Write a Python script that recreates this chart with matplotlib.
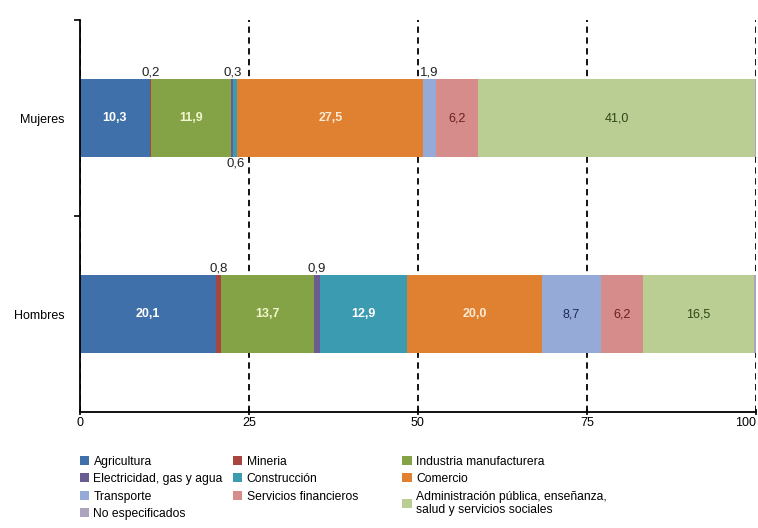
import matplotlib.pyplot as plt
from matplotlib.patches import Patch

plt.rcParams['font.family'] = ['Liberation Sans', 'DejaVu Sans']

# Distribución de ocupados por rama de actividad (%)
categorias = ['Hombres', 'Mujeres']
sectores = ['Agricultura', 'Mineria', 'Industria manufacturera',
            'Electricidad, gas y agua', 'Construcción', 'Comercio',
            'Transporte', 'Servicios financieros',
            'Administración pública, enseñanza,\nsalud y servicios sociales',
            'No especificados']
hombres = [20.1, 0.8, 13.7, 0.9, 12.9, 20.0, 8.7, 6.2, 16.5, 0.2]
mujeres = [10.3, 0.2, 11.9, 0.3, 0.6, 27.5, 1.9, 6.2, 41.0, 0.1]

colores = ['#4070AA', '#A8453F', '#84A347', '#6A5B90', '#3B9BB1', '#E08132',
           '#95AAD6', '#D58C8B', '#BACD93', '#ABA4BC']
color_texto = ['white', 'white', '#F2F6CC', 'white', 'white', '#FCEBD4',
               '#1E2D58', '#6A1E1E', '#2C4718', 'black']
negrita = [True, True, True, True, True, True, False, False, False, False]

# donde va cada etiqueta: dentro, encima o debajo de la barra
pos_h = ['in', 'above', 'in', 'above', 'in', 'in', 'in', 'in', 'in', None]
pos_m = ['in', 'above', 'in', 'above', 'below', 'in', 'above', 'in', 'in', None]

fig = plt.figure(figsize=(7.58, 5.28), dpi=100)
ax = fig.add_axes([0.1055, 0.2197, 0.8915, 0.7423])

alto = 0.4
for fila, (vals, pos) in enumerate([(hombres, pos_h), (mujeres, pos_m)]):
    izq = 0
    for i, v in enumerate(vals):
        ax.barh(fila, v, left=izq, height=alto, color=colores[i], zorder=2)
        centro = izq + v / 2
        etiqueta = f'{v:.1f}'.replace('.', ',')
        if pos[i] == 'in':
            ax.text(centro, fila, etiqueta, ha='center', va='center',
                    fontsize=9, color=color_texto[i],
                    fontweight='bold' if negrita[i] else 'normal', zorder=3)
        elif pos[i] == 'above':
            ax.text(centro, fila + alto / 2 + 0.003, etiqueta, ha='center',
                    va='bottom', fontsize=9.5, color='#222222', zorder=3)
        elif pos[i] == 'below':
            ax.text(centro, fila - alto / 2 - 0.003, etiqueta, ha='center',
                    va='top', fontsize=9.5, color='#222222', zorder=3)
        izq += v

ax.set_xlim(0, 100)
ax.set_ylim(-0.5, 1.5)
ax.set_xticks([0, 25, 50, 75, 100])
ax.set_yticks([0, 1])
ax.set_yticklabels(categorias, fontsize=9)
ax.set_yticks([0.5, 1.5], minor=True)
ax.tick_params(axis='y', which='major', length=0, pad=11)
ax.tick_params(axis='y', which='minor', length=4, width=1.2, direction='out')
ax.tick_params(axis='x', length=5, width=1.2, direction='inout', labelsize=9, pad=1)
ax.get_xticklabels()[-1].set_horizontalalignment('right')

ax.xaxis.grid(True, color='black', linestyle=(0, (3.5, 2.5)), linewidth=1.3)
ax.set_axisbelow(True)
for lado in ['top', 'right']:
    ax.spines[lado].set_visible(False)
for lado in ['left', 'bottom']:
    ax.spines[lado].set_linewidth(1.3)
    ax.spines[lado].set_zorder(4)

# leyenda en tres columnas
handles = [Patch(facecolor=c) for c in colores]
columnas = [([0, 3, 6, 9], 0.105), ([1, 4, 7], 0.307), ([2, 5, 8], 0.531)]
for idx, x0 in columnas:
    fig.legend([handles[i] for i in idx], [sectores[i] for i in idx],
               loc='upper left', bbox_to_anchor=(x0, 0.137), frameon=False,
               fontsize=8.7, handlelength=0.75, handleheight=0.75,
               handletextpad=0.4, labelspacing=0.45, borderpad=0,
               borderaxespad=0)

fig.savefig('out.png', dpi=100)
